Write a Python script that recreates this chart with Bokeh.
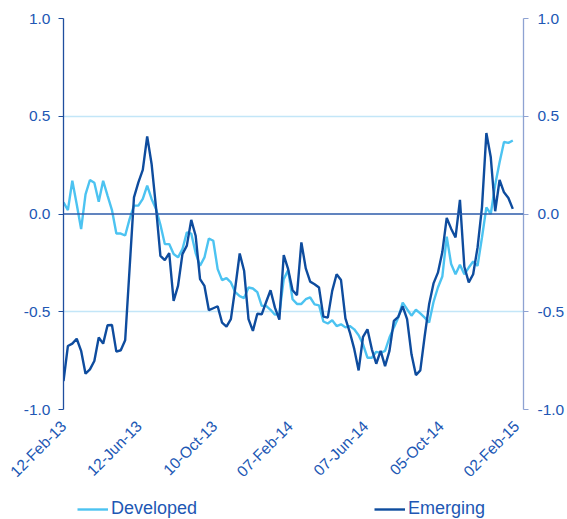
import math
import pandas as pd
from bokeh.plotting import figure
from bokeh.layouts import column
from bokeh.models import (Range1d, LinearAxis, FixedTicker, NumeralTickFormatter,
                          Span, Legend, LegendItem, ColumnDataSource)
from bokeh.embed import file_html
from bokeh.resources import INLINE

# ---------------- data ----------------
start_date = "2013-02-12"
tick_labels = ["12-Feb-13", "12-Jun-13", "10-Oct-13", "07-Feb-14",
               "07-Jun-14", "05-Oct-14", "02-Feb-15"]
y_ticks = [-1.0, -0.5, 0.0, 0.5, 1.0]
series_names = ["Developed", "Emerging"]

developed = [
    0.06, 0.02, 0.17, 0.05, -0.077, 0.10, 0.174, 0.16, 0.063, 0.17,
    0.094, 0.02, -0.10, -0.10, -0.11, -0.026, 0.043, 0.043, 0.077, 0.145,
    0.077, 0.026, -0.055, -0.154, -0.154, -0.205, -0.222, -0.18, -0.094, -0.10,
    -0.20, -0.265, -0.222, -0.125, -0.137, -0.282, -0.338, -0.328, -0.35, -0.40,
    -0.42, -0.43, -0.376, -0.381, -0.40, -0.47, -0.47, -0.49, -0.515, -0.51,
    -0.333, -0.287, -0.436, -0.46, -0.46, -0.436, -0.427, -0.462, -0.467, -0.55,
    -0.56, -0.544, -0.573, -0.564, -0.58, -0.573, -0.59, -0.62, -0.667, -0.735,
    -0.735, -0.705, -0.71, -0.70, -0.632, -0.58, -0.53, -0.453, -0.487, -0.52,
    -0.49, -0.508, -0.53, -0.555, -0.45, -0.376, -0.32, -0.116, -0.256, -0.308,
    -0.26, -0.308, -0.274, -0.243, -0.265, -0.12, 0.034, 0.0, 0.15, 0.265,
    0.368, 0.364, 0.376,
]

emerging = [
    -0.855, -0.675, -0.663, -0.638, -0.70, -0.817, -0.795, -0.752, -0.632, -0.663,
    -0.569, -0.568, -0.704, -0.697, -0.646, -0.28, 0.085, 0.162, 0.226, 0.397,
    0.256, 0.034, -0.214, -0.236, -0.20, -0.444, -0.368, -0.205, -0.162, -0.03,
    -0.111, -0.333, -0.368, -0.492, -0.482, -0.472, -0.556, -0.576, -0.538, -0.376,
    -0.202, -0.29, -0.538, -0.598, -0.51, -0.513, -0.45, -0.39, -0.479, -0.54,
    -0.21, -0.282, -0.39, -0.415, -0.145, -0.278, -0.346, -0.359, -0.376, -0.525,
    -0.53, -0.393, -0.308, -0.338, -0.534, -0.605, -0.69, -0.80, -0.628, -0.59,
    -0.692, -0.766, -0.70, -0.778, -0.70, -0.547, -0.526, -0.472, -0.538, -0.718,
    -0.824, -0.80, -0.624, -0.462, -0.355, -0.30, -0.195, -0.02, -0.075, -0.12,
    0.072, -0.27, -0.35, -0.308, -0.171, 0.034, 0.414, 0.29, 0.014, 0.174,
    0.111, 0.082, 0.026,
]

# ---------------- derived x positions (days since first date) ----------------
t0 = pd.Timestamp(start_date)
dates = pd.date_range(start_date, periods=len(developed), freq="7D")
days = [(d - t0).days for d in dates]
tick_days = [(pd.to_datetime(s, format="%d-%b-%y") - t0).days for s in tick_labels]

source = ColumnDataSource(dict(x=days, dev=developed, emg=emerging))

FONT = "Liberation Sans"
TEXT = "#2157B4"
DEV_C = "#4CC3F1"
EMG_C = "#0E4C9E"
GRID_C = "#C3E6F8"
LAXIS_C = "#1F4E9E"
RAXIS_C = "#8EA2D2"
ZERO_C = "#2C5BAA"
LW = 2.4

fig = figure(width=567, height=489, output_backend="svg", toolbar_location=None,
             x_range=Range1d(0, 731), y_range=Range1d(-1, 1),
             min_border_left=63, min_border_right=41, min_border_top=18,
             min_border_bottom=79)
fig.outline_line_color = None
fig.background_fill_color = "white"
fig.border_fill_color = "white"

# grid
fig.xgrid.visible = False
fig.ygrid.ticker = FixedTicker(ticks=[t for t in y_ticks if t != 0])
fig.ygrid.grid_line_color = GRID_C
fig.ygrid.grid_line_width = 1.3

# zero line (category axis crossing)
fig.add_layout(Span(location=0, dimension="width", line_color=ZERO_C, line_width=1.3))

# lines
fig.line("x", "dev", source=source, line_color=DEV_C, line_width=LW)
fig.line("x", "emg", source=source, line_color=EMG_C, line_width=LW)

# x axis
xa = fig.xaxis[0]
xa.ticker = FixedTicker(ticks=tick_days)
xa.major_label_overrides = {d: s for d, s in zip(tick_days, tick_labels)}
xa.major_label_orientation = math.pi / 4
xa.axis_line_color = None
xa.major_tick_line_color = None
xa.minor_tick_line_color = None
xa.major_tick_out = 0
xa.major_label_standoff = 14
xa.major_label_text_font = FONT
xa.major_label_text_font_size = "15.5px"
xa.major_label_text_color = TEXT

# left y axis
ya = fig.yaxis[0]
ya.ticker = FixedTicker(ticks=y_ticks)
ya.formatter = NumeralTickFormatter(format="0.0")
ya.axis_line_color = LAXIS_C
ya.axis_line_width = 1.3
ya.major_tick_line_color = LAXIS_C
ya.major_tick_out = 5
ya.major_tick_in = 0
ya.minor_tick_line_color = None
ya.major_label_standoff = 8
ya.major_label_text_font = FONT
ya.major_label_text_font_size = "15.5px"
ya.major_label_text_color = TEXT

# right y axis
fig.extra_y_ranges = {"right": Range1d(-1, 1)}
ra = LinearAxis(y_range_name="right", ticker=FixedTicker(ticks=y_ticks),
                formatter=NumeralTickFormatter(format="0.0"))
ra.axis_line_color = RAXIS_C
ra.axis_line_width = 1.3
ra.major_tick_line_color = RAXIS_C
ra.major_tick_out = 5
ra.major_tick_in = 0
ra.minor_tick_line_color = None
ra.major_label_standoff = 9
ra.major_label_text_font = FONT
ra.major_label_text_font_size = "15.5px"
ra.major_label_text_color = TEXT
fig.add_layout(ra, "right")

# ---------------- legend strip below the chart ----------------
leg = figure(width=567, height=30, output_backend="svg", toolbar_location=None,
             x_range=Range1d(0, 731), y_range=Range1d(10, 11),
             min_border_left=0, min_border_right=0, min_border_top=0,
             min_border_bottom=0)
leg.axis.visible = False
leg.grid.visible = False
leg.outline_line_color = None
leg.background_fill_color = "white"
leg.border_fill_color = "white"
# same series, drawn outside this strip's visible range: only their legend keys show
l_dev = leg.line("x", "dev", source=source, line_color=DEV_C, line_width=LW)
l_emg = leg.line("x", "emg", source=source, line_color=EMG_C, line_width=LW)

legend = Legend(items=[LegendItem(label=series_names[0], renderers=[l_dev]),
                       LegendItem(label=series_names[1], renderers=[l_emg])],
                orientation="horizontal", location=(14, 0),
                spacing=177, glyph_width=31, glyph_height=20, label_standoff=3,
                padding=0, margin=0, border_line_color=None,
                background_fill_alpha=0,
                label_text_font=FONT, label_text_font_size="18px",
                label_text_color=TEXT)
leg.add_layout(legend)

p = column(fig, leg, spacing=0)

open("out.html", "w").write(file_html(p, INLINE))
